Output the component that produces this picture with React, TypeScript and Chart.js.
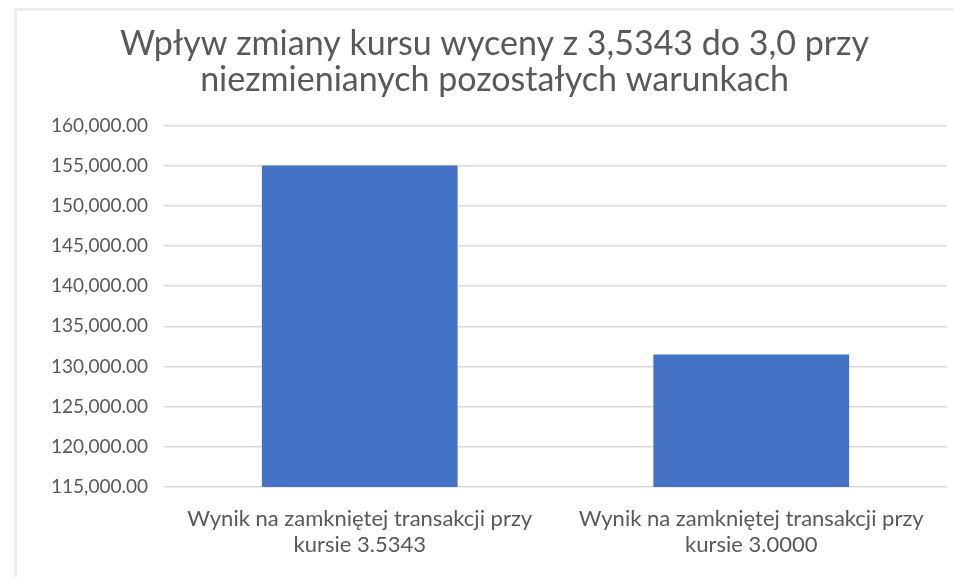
import React, { useEffect, useRef } from "react";
import { Chart, registerables } from "chart.js";

Chart.register(...registerables);

const titleLines = [
  "Wpływ zmiany kursu wyceny z 3,5343 do 3,0 przy",
  "niezmienianych pozostałych warunkach",
];
const categories = [
  ["Wynik na zamkniętej transakcji przy", "kursie 3.5343"],
  ["Wynik na zamkniętej transakcji przy", "kursie 3.0000"],
];
const values = [155000, 131500];
const yMin = 115000;
const yMax = 160000;
const yStep = 5000;

const FONT = "Lato, 'Open Sans', sans-serif";
const TEXT = "#595959";

export default function App() {
  const ref = useRef<HTMLCanvasElement | null>(null);

  useEffect(() => {
    if (!ref.current) return;
    const chart = new Chart(ref.current, {
      type: "bar",
      data: {
        labels: categories,
        datasets: [
          {
            data: values,
            backgroundColor: "#4472C4",
            borderWidth: 0,
            categoryPercentage: 1,
            barPercentage: 0.5,
          },
        ],
      },
      options: {
        responsive: false,
        animation: false,
        layout: { padding: { left: 42, right: 6, top: 0, bottom: 0 } },
        plugins: {
          legend: { display: false },
          tooltip: { enabled: false },
          title: {
            display: true,
            text: titleLines,
            color: TEXT,
            font: { family: FONT, size: 34, weight: "normal", lineHeight: 1.05 },
            padding: { top: 26, bottom: 28 },
          },
        },
        scales: {
          x: {
            grid: { display: false, drawTicks: false },
            border: { display: false },
            ticks: {
              color: TEXT,
              font: { family: FONT, size: 22, lineHeight: 1.18 },
              padding: 19,
              maxRotation: 0,
              autoSkip: false,
            },
            afterFit: (scale: any) => {
              scale.height = 90;
            },
          },
          y: {
            min: yMin,
            max: yMax,
            grid: { color: "#D9D9D9", lineWidth: 1.5, drawTicks: false },
            border: { display: false },
            ticks: {
              stepSize: yStep,
              color: TEXT,
              font: { family: FONT, size: 19 },
              padding: 16,
              callback: (v: any) =>
                Number(v).toLocaleString("en-US", {
                  minimumFractionDigits: 2,
                  maximumFractionDigits: 2,
                }),
            },
            afterFit: (scale: any) => {
              scale.width = 122;
            },
          },
        },
      },
    });
    return () => chart.destroy();
  }, []);

  return (
    <div
      style={{
        position: "fixed",
        left: 0,
        top: 0,
        width: 953,
        height: 577,
        background: "#fff",
        overflow: "hidden",
      }}
    >
      <div
        style={{
          position: "absolute",
          left: 14,
          top: 8,
          width: 1000,
          height: 700,
          borderTop: "3px solid #EDEDED",
          borderLeft: "3px solid #EDEDED",
        }}
      />
      <canvas
        ref={ref}
        width={953}
        height={577}
        style={{ position: "absolute", left: 0, top: 0 }}
      />
    </div>
  );
}
